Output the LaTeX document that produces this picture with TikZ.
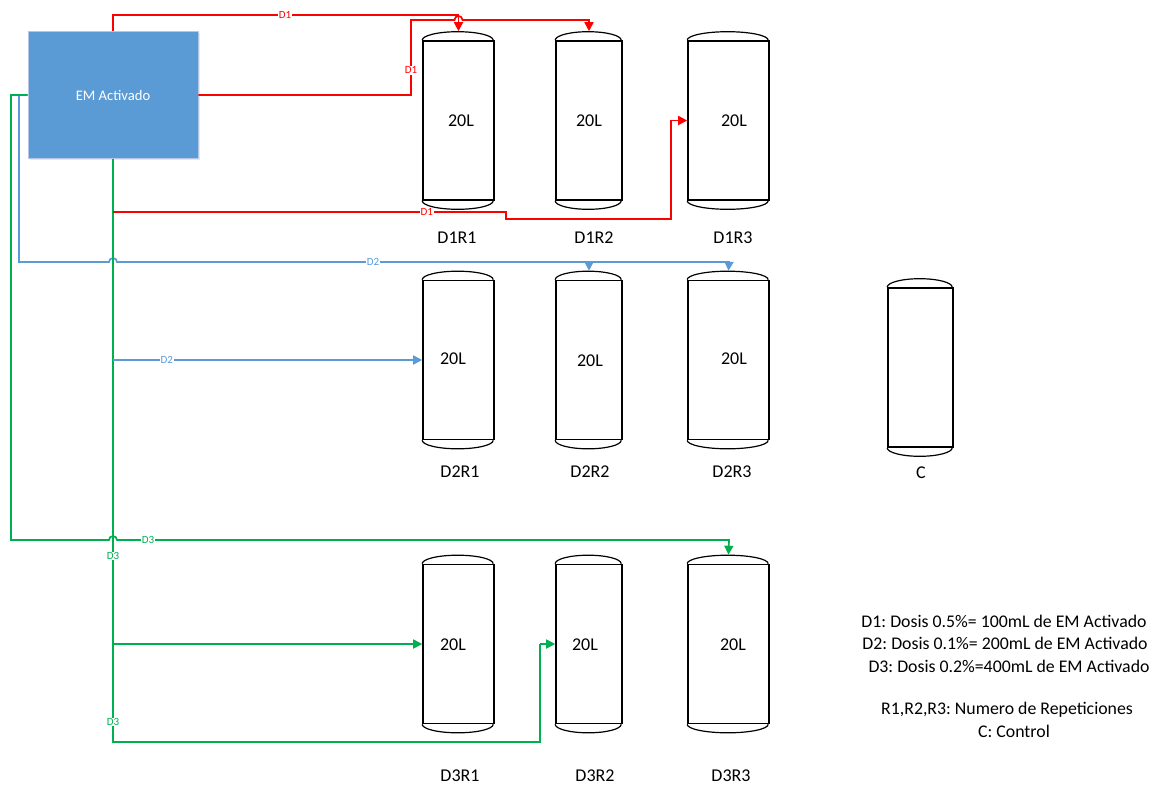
\documentclass[tikz,border=0pt]{standalone}
\usepackage{fontspec}
\setmainfont{Carlito}
\usetikzlibrary{arrows.meta,shadows,calc}
\definecolor{emblue}{HTML}{5B9BD5}
\definecolor{emborder}{HTML}{B4C7E7}
\definecolor{dred}{HTML}{FF0000}
\definecolor{dblue}{HTML}{5B9BD5}
\definecolor{dgreen}{HTML}{00B050}
\tikzset{
  tankbody/.style={draw=black, line width=1.6pt, inner sep=0pt, fill=white},
  tankcap/.style={draw=black, line width=1.2pt},
  conn/.style={line width=1.7pt, line join=miter, -{Triangle[length=9pt,width=9pt]}},
  plainconn/.style={line width=1.7pt, line join=miter},
  lbl/.style={fill=white, inner sep=0.8pt, font=\fontsize{11}{12}\selectfont},
  vol/.style={font=\fontsize{18}{20}\selectfont, inner sep=0pt},
  tname/.style={font=\fontsize{18}{20}\selectfont, inner sep=0pt},
  legend/.style={font=\fontsize{17.8}{22}\selectfont, inner sep=0pt},
}
\newcommand{\tankcaps}[3]{%
  \draw[tankcap] (#1.north west) arc[start angle=180,end angle=0,x radius=#2,y radius=#3];
  \draw[tankcap] (#1.south west) arc[start angle=180,end angle=360,x radius=#2,y radius=#3];
}
\begin{document}
\frenchspacing
\begin{tikzpicture}[x=1pt,y=-1pt]
\useasboundingbox (0,0) rectangle (1162,785);
\fill[white] (0,0) rectangle (1162,785);

% EM box
\node[fill=emblue, draw=emborder, line width=0.8pt, minimum width=170pt, minimum height=127pt,
      inner sep=0pt, text=white, font=\fontsize{14.6}{16}\selectfont,
      drop shadow={opacity=0.18, shadow xshift=1.5pt, shadow yshift=-1.5pt}]
  (em) at (113,95) {EM Activado};

% tanks
\foreach \n/\cx/\cy/\w in {t11/458.5/120.5/71, t12/589/120.5/66, t13/728.5/120.5/81,
                           t21/458.5/360/71, t22/589/360/66, t23/728.5/360/81,
                           t31/458.5/644/71, t32/589/644/66, t33/728.5/644/81,
                           tc/920.5/367.5/65}{
  \node[tankbody, minimum width=\w pt, minimum height=159pt] (\n) at (\cx,\cy) {};
}
\tankcaps{t11}{35.5pt}{8.5pt}
\tankcaps{t12}{33pt}{8.5pt}
\tankcaps{t13}{40.5pt}{8.5pt}
\tankcaps{t21}{35.5pt}{8.5pt}
\tankcaps{t22}{33pt}{8.5pt}
\tankcaps{t23}{40.5pt}{8.5pt}
\tankcaps{t31}{35.5pt}{8.5pt}
\tankcaps{t32}{33pt}{8.5pt}
\tankcaps{t33}{40.5pt}{8.5pt}
\tankcaps{tc}{32.5pt}{8.5pt}

\coordinate (t11top) at ($(t11.north)+(0,-9)$);
\coordinate (t12top) at ($(t12.north)+(0,-9)$);
\coordinate (t22top) at ($(t22.north)+(0,-9)$);
\coordinate (t23top) at ($(t23.north)+(0,-9)$);
\coordinate (t33top) at ($(t33.north)+(0,-9)$);

% volume labels
\node[vol] (v11) at (461,121) {20L};
\node[vol] (v12) at (589,121) {20L};
\node[vol] (v13) at (734,121) {20L};
\node[vol] (v21) at (453,359) {20L};
\node[vol] (v22) at (590,361) {20L};
\node[vol] (v23) at (734,359) {20L};
\node[vol] (v31) at (453,645) {20L};
\node[vol] (v32) at (585,645) {20L};
\node[vol] (v33) at (733,645) {20L};

% tank names
\node[tname] (n11) at (457,238) {D1R1};
\node[tname] (n12) at (594,238) {D1R2};
\node[tname] (n13) at (733,238) {D1R3};
\node[tname] (n21) at (460,472) {D2R1};
\node[tname] (n22) at (590,472) {D2R2};
\node[tname] (n23) at (732,472) {D2R3};
\node[tname] (n31) at (460,776) {D3R1};
\node[tname] (n32) at (595,776) {D3R2};
\node[tname] (n33) at (731,776) {D3R3};
\node[tname] (nc) at (921,473) {C};

% ---- blue connectors (drawn first)
\draw[conn, dblue] (em.west) -- (19,95) -- (19,262) -- (109,262)
   arc[start angle=180,end angle=0,radius=4pt] -- (729,262) -- (t23top);
\draw[conn, dblue] (589,262) -- (t22top);
\node[lbl, text=dblue] (lb1) at (373,262) {D2};

% ---- green connectors
\draw[plainconn, dgreen] (em.south) -- (113,742) -- (540,742) -- (540,644);
\draw[conn, dgreen] (540,644) -- (t32.west);
\draw[conn, dgreen] (113,644) -- (t31.west);
\draw[conn, dgreen] (em.west) -- (11,95) -- (11,540) -- (109,540)
   arc[start angle=180,end angle=0,radius=4pt] -- (729,540) -- (t33top);
\node[lbl, text=dgreen] (lg1) at (148,540) {D3};
\node[lbl, text=dgreen] (lg2) at (113,556) {D3};
\node[lbl, text=dgreen] (lg3) at (113,722) {D3};

% blue branch to D2R1 (from green trunk)
\draw[conn, dblue] (113,360) -- (t21.west);
\node[lbl, text=dblue] (lb2) at (166.7,360) {D2};

% ---- red connectors
\draw[conn, dred] (em.north) -- (113,15) -- (458.5,15) -- (t11top);
\node[lbl, text=dred] (lr1) at (285,15) {D1};
\draw[conn, dred] (em.east) -- (411,95) -- (411,20) -- (454.5,20)
   arc[start angle=180,end angle=0,radius=4pt] -- (589,20) -- (t12top);
\node[lbl, text=dred] (lr2) at (411,70.3) {D1};
\draw[conn, dred] (113,212) -- (506,212) -- (506,219) -- (671,219) -- (671,120.5) -- (t13.west);
\node[lbl, text=dred] (lr3) at (426.7,212) {D1};

% legend
\node[legend] (L1) at (1004,621.7) {D1: Dosis 0.5\%= 100mL de EM Activado};
\node[legend] (L2) at (1005,643.3) {D2: Dosis 0.1\%= 200mL de EM Activado};
\node[legend] (L3) at (1009,666) {D3: Dosis 0.2\%=400mL de EM Activado};
\node[legend] (L4) at (1007,709.3) {R1,R2,R3: Numero de Repeticiones};
\node[legend] (L5) at (1014,731) {C: Control};
\end{tikzpicture}
\end{document}
